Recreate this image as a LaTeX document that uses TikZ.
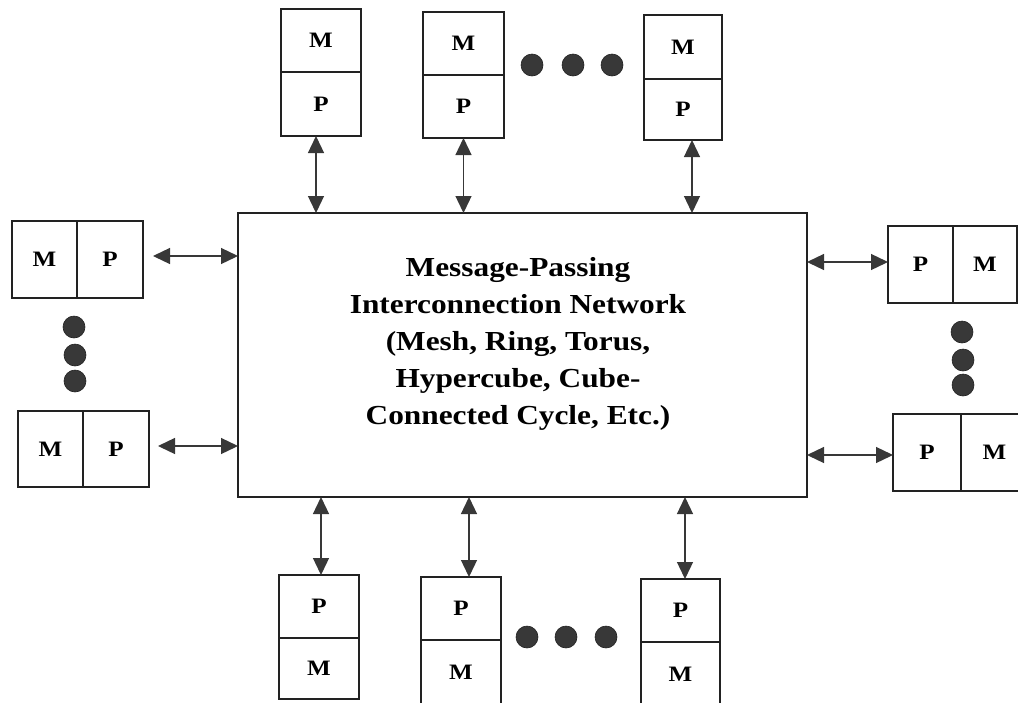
\documentclass[tikz,border=0pt]{standalone}
\usepackage{fontspec}
\newfontfamily\labfont[FakeStretch=1.14]{Liberation Serif}
\usetikzlibrary{arrows.meta}
\definecolor{ink}{HTML}{222222}
\definecolor{headgray}{HTML}{383838}
\begin{document}
\begin{tikzpicture}[x=1pt,y=-1pt,
  cell/.style={draw=ink, line width=1.1pt, inner sep=0pt, outer sep=0pt,
    font=\labfont\bfseries\fontsize{22}{26}\selectfont},
  net/.style={draw=ink, line width=1.2pt, inner sep=0pt, outer sep=0pt,
    align=center},
  link/.style={draw=headgray, line width=1.3pt,
    {Triangle[length=17pt,width=16pt,fill=headgray]}-{Triangle[length=17pt,width=16pt,fill=headgray]}},
  dot/.style={circle, fill=headgray, draw=ink, line width=0.6pt, minimum size=22pt, inner sep=0pt}
]
\useasboundingbox (0,0) rectangle (1018,702);
\clip (0,0) rectangle (1018,702);

% central network
\node[net, minimum width=569pt, minimum height=284pt] (net) at (522.5,355) {};
\node[font=\labfont\bfseries\fontsize{27.5}{37}\selectfont, align=center, inner sep=0pt] (nettext) at (518,344)
 {Message-Passing\\Interconnection Network\\(Mesh, Ring, Torus,\\Hypercube, Cube-\\Connected Cycle, Etc.)};

% top modules (M above P)
\node[cell, minimum width=80pt, minimum height=63pt] (tm1) at (321,40.5) {M};
\node[cell, minimum width=80pt, minimum height=64pt] (tp1) at (321,104) {P};
\node[cell, minimum width=81pt, minimum height=63pt] (tm2) at (463.5,43.5) {M};
\node[cell, minimum width=81pt, minimum height=63pt] (tp2) at (463.5,106.5) {P};
\node[cell, minimum width=78pt, minimum height=64pt] (tm3) at (683,47) {M};
\node[cell, minimum width=78pt, minimum height=61pt] (tp3) at (683,109.5) {P};

% bottom modules (P above M)
\node[cell, minimum width=80pt, minimum height=63pt] (bp1) at (319,606.5) {P};
\node[cell, minimum width=80pt, minimum height=61pt] (bm1) at (319,668.5) {M};
\node[cell, minimum width=80pt, minimum height=63pt] (bp2) at (461,608.5) {P};
\node[cell, minimum width=80pt, minimum height=65pt] (bm2) at (461,672.5) {M};
\node[cell, minimum width=79pt, minimum height=63pt] (bp3) at (680.5,610.5) {P};
\node[cell, minimum width=79pt, minimum height=64pt] (bm3) at (680.5,674) {M};

% left modules (M left, P right)
\node[cell, minimum width=65pt, minimum height=77pt] (lm1) at (44.5,259.5) {M};
\node[cell, minimum width=66pt, minimum height=77pt] (lp1) at (110,259.5) {P};
\node[cell, minimum width=65pt, minimum height=76pt] (lm2) at (50.5,449) {M};
\node[cell, minimum width=66pt, minimum height=76pt] (lp2) at (116,449) {P};

% right modules (P left, M right)
\node[cell, minimum width=65pt, minimum height=77pt] (rp1) at (920.5,264.5) {P};
\node[cell, minimum width=64pt, minimum height=77pt] (rm1) at (985,264.5) {M};
\node[cell, minimum width=68pt, minimum height=77pt] (rp2) at (927,452.5) {P};
\node[cell, minimum width=67pt, minimum height=77pt] (rm2) at (994.5,452.5) {M};

% connectors
\draw[link] ([xshift=-5pt]tp1.south) -- ([xshift=-5pt]tp1.south |- net.north);
\draw[link] (tp2.south) -- (tp2.south |- net.north);
\draw[link] ([xshift=9pt]tp3.south) -- ([xshift=9pt]tp3.south |- net.north);
\draw[link] ([xshift=2pt]bp1.north) -- ([xshift=2pt]bp1.north |- net.south);
\draw[link] ([xshift=8pt]bp2.north) -- ([xshift=8pt]bp2.north |- net.south);
\draw[link] ([xshift=4.5pt]bp3.north) -- ([xshift=4.5pt]bp3.north |- net.south);
\draw[link] ([shift={(10pt,3.5pt)}]lp1.east) -- ([yshift=3.5pt]net.west |- lp1.east);
\draw[link] ([shift={(9pt,3pt)}]lp2.east) -- ([yshift=3pt]net.west |- lp2.east);
\draw[link] ([yshift=2.5pt]net.east |- rp1.west) -- ([yshift=2.5pt]rp1.west);
\draw[link] ([yshift=-2.5pt]net.east |- rp2.west) -- ([yshift=-2.5pt]rp2.west);

% ellipsis dots
\node[dot] (dt1) at (532,65) {};
\node[dot] (dt2) at (573,65) {};
\node[dot] (dt3) at (612,65) {};
\node[dot] (db1) at (527,637) {};
\node[dot] (db2) at (566,637) {};
\node[dot] (db3) at (606,637) {};
\node[dot] (dl1) at (74,327) {};
\node[dot] (dl2) at (75,355) {};
\node[dot] (dl3) at (75,381) {};
\node[dot] (dr1) at (962,332) {};
\node[dot] (dr2) at (963,360) {};
\node[dot] (dr3) at (963,385) {};
\end{tikzpicture}
\end{document}
